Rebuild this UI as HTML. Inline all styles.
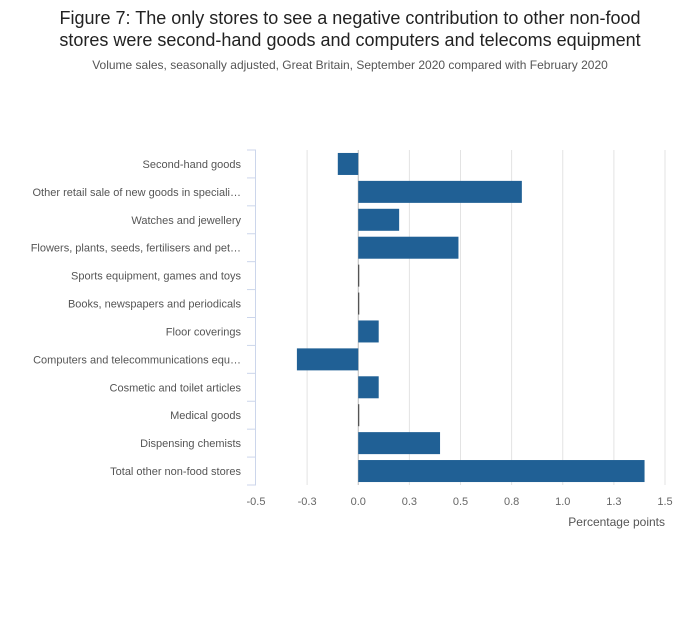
<!DOCTYPE html>
<html><head><meta charset="utf-8"><style>
body{margin:0;background:#fff;font-family:"Liberation Sans",sans-serif}
</style></head><body>
<svg width="700" height="635" xmlns="http://www.w3.org/2000/svg" font-family="Liberation Sans, sans-serif">
<rect width="700" height="635" fill="#fff"/>
<text x="350" y="24" text-anchor="middle" font-size="18" fill="#222">Figure 7: The only stores to see a negative contribution to other non-food</text>
<text x="350" y="46" text-anchor="middle" font-size="18" fill="#222">stores were second-hand goods and computers and telecoms equipment</text>
<text x="350" y="69" text-anchor="middle" font-size="12" fill="#555">Volume sales, seasonally adjusted, Great Britain, September 2020 compared with February 2020</text>
<g id="grid"></g>
<g id="bars"></g>
<g id="yaxis"></g>
<g id="xaxis"></g>
<text x="665" y="526" text-anchor="end" font-size="12" fill="#555">Percentage points</text>
</svg>
<script>
const categories=["Second-hand goods","Other retail sale of new goods in speciali…","Watches and jewellery","Flowers, plants, seeds, fertilisers and pet…","Sports equipment, games and toys","Books, newspapers and periodicals","Floor coverings","Computers and telecommunications equ…","Cosmetic and toilet articles","Medical goods","Dispensing chemists","Total other non-food stores"];
const values=[-0.10,0.80,0.20,0.49,0,0,0.10,-0.30,0.10,0,0.40,1.40];
const ticks=[-0.5,-0.25,0,0.25,0.5,0.75,1,1.25,1.5];
const tickLabels=["-0.5","-0.3","0.0","0.3","0.5","0.8","1.0","1.3","1.5"];
const NS="http://www.w3.org/2000/svg";
const x0=256,x1=665,yTop=150,yBot=485;
const xs=v=>x0+(v-(-0.5))/(2)*(x1-x0);
const band=(yBot-yTop)/categories.length;
const ys=i=>yTop+i*band;
function mk(t,a,p){const e=document.createElementNS(NS,t);for(const k in a)e.setAttribute(k,a[k]);p.appendChild(e);return e;}
const grid=document.getElementById('grid'),bars=document.getElementById('bars'),ya=document.getElementById('yaxis'),xa=document.getElementById('xaxis');
ticks.forEach((t,i)=>{
 if(i>0){const l=mk('line',{x1:xs(t),x2:xs(t),y1:yTop,y2:yBot,stroke:t===0?'#bbb':'#e3e3e3','stroke-width':1},grid);
 
 }
 const tx=mk('text',{x:xs(t),y:505,'text-anchor':'middle','font-size':11,fill:'#666'},xa);
 tx.textContent=tickLabels[i];
 
 
});
const ax=mk('line',{x1:x0-0.5,x2:x0-0.5,y1:yTop,y2:yBot,stroke:'#ccd6eb','stroke-width':1},ya);


for(let i=0;i<=categories.length;i++){
 const tk=mk('line',{x1:x0-9,x2:x0,y1:ys(i),y2:ys(i),stroke:'#ccd6eb','stroke-width':1},ya);
 
 
}
categories.forEach((c,i)=>{
 const cy=ys(i)+band/2;
 const tx=mk('text',{x:241,y:cy+4,'text-anchor':'end','font-size':11,fill:'#555'},ya);
 tx.textContent=c;
 
 
 const v=values[i];
 const a=xs(Math.min(0,v)),b=xs(Math.max(0,v));
 const r=mk('rect',{x:a,y:cy-11,width:Math.max(b-a,1),height:22,fill:v===0?'#333':'#206095'},bars);
 
 
});
</script>
</body></html>
